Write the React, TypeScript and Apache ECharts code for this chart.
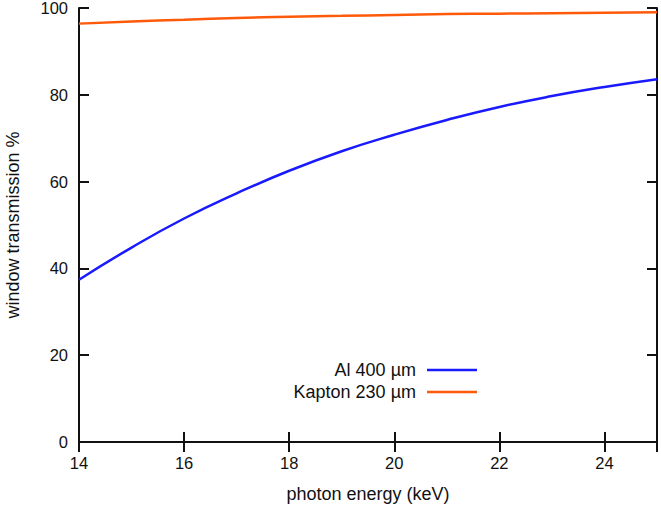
import React, { useEffect, useRef } from "react";
import * as echarts from "echarts";

const energies = [14, 15, 16, 17, 18, 19, 20, 21, 22, 23, 24, 25];
const alValues = [37.4, 44.8, 51.5, 57.3, 62.5, 67.0, 70.8, 74.2, 77.2, 79.7, 81.8, 83.6];
const kaptonValues = [96.4, 96.9, 97.3, 97.7, 98.0, 98.2, 98.4, 98.6, 98.7, 98.8, 98.9, 99.0];
const seriesNames = ["Al 400 µm", "Kapton 230 µm"];
const xTitle = "photon energy (keV)";
const yTitle = "window transmission %";

const FONT = "'Liberation Sans', Arial, sans-serif";
const axisLine = { show: true, lineStyle: { color: "#111", width: 2 } };
const tick = { show: true, inside: true, length: 10, lineStyle: { color: "#111", width: 2 } };

export default function App() {
  const ref = useRef<HTMLDivElement>(null);
  useEffect(() => {
    if (!ref.current) return;
    const chart = echarts.init(ref.current, undefined, { renderer: "svg" });
    const pair = (vals: number[]) => energies.map((e, i) => [e, vals[i]]);
    const legendCommon = {
      right: 179, align: "right", icon: "rect",
      itemWidth: 50, itemHeight: 2.5,
      textStyle: { fontSize: 18, color: "#111", fontFamily: FONT, padding: [0, 6, 0, 0] },
    };
    chart.setOption({
      animation: false,
      textStyle: { fontFamily: FONT },
      grid: { left: 79, right: 4, top: 8, bottom: 63, outerBoundsMode: "none", containLabel: false },
      xAxis: [
        {
          type: "value", min: 14, max: 25, interval: 2, position: "bottom",
          axisLine, axisTick: tick, splitLine: { show: false },
          axisLabel: { color: "#111", fontSize: 16.5, margin: 12, fontFamily: FONT,
            formatter: (v: number) => (v === 25 ? "" : String(v)) },
          name: xTitle, nameLocation: "middle", nameGap: 43,
          nameTextStyle: { color: "#111", fontSize: 18, fontFamily: FONT },
        },
        {
          type: "value", min: 14, max: 25, interval: 2, position: "top",
          axisLine, axisTick: tick, axisLabel: { show: false }, splitLine: { show: false },
        },
      ],
      yAxis: [
        {
          type: "value", min: 0, max: 100, interval: 20, position: "left",
          axisLine, axisTick: tick, splitLine: { show: false },
          axisLabel: { color: "#111", fontSize: 16.5, margin: 11, fontFamily: FONT },
          name: yTitle, nameLocation: "middle", nameGap: 57,
          nameTextStyle: { color: "#111", fontSize: 18, fontFamily: FONT },
        },
        {
          type: "value", min: 0, max: 100, interval: 20, position: "right",
          axisLine, axisTick: tick, axisLabel: { show: false }, splitLine: { show: false },
        },
      ],
      legend: [
        { ...legendCommon, data: [seriesNames[0]], top: 356 },
        { ...legendCommon, data: [seriesNames[1]], top: 378 },
      ],
      series: [
        {
          name: seriesNames[0], type: "line", data: pair(alValues), smooth: true,
          symbol: "none", lineStyle: { color: "#1a1aff", width: 2.5 }, itemStyle: { color: "#1a1aff" },
        },
        {
          name: seriesNames[1], type: "line", data: pair(kaptonValues), smooth: true,
          symbol: "none", lineStyle: { color: "#ff5a0a", width: 2.5 }, itemStyle: { color: "#ff5a0a" },
        },
      ],
    });
    return () => chart.dispose();
  }, []);
  return <div ref={ref} style={{ width: 661, height: 505, position: "absolute", left: 0, top: 0 }} />;
}
